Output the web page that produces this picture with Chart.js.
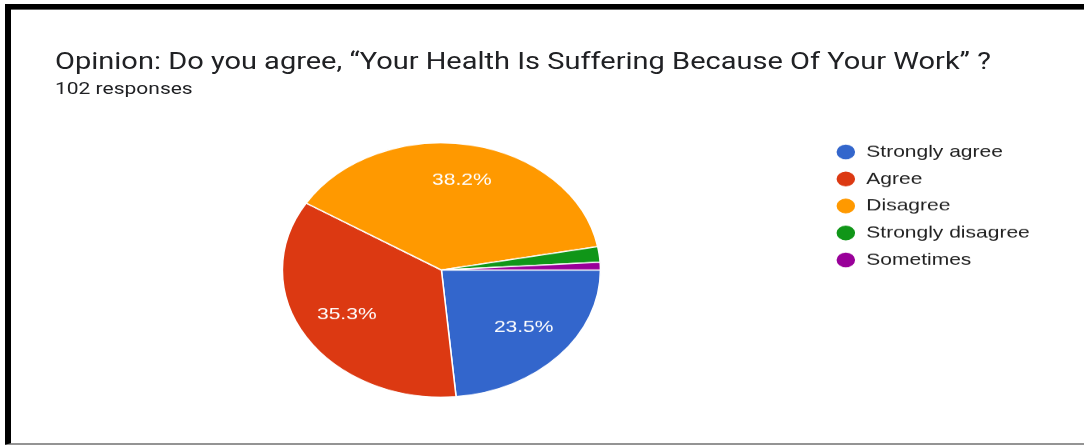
<!DOCTYPE html>
<html>
<head>
<meta charset="utf-8">
<script src="https://cdn.jsdelivr.net/npm/chart.js"></script>
<style>
  html, body { margin: 0; padding: 0; background: #fff; overflow: hidden; }
  /* the reference is squashed vertically, so draw everything taller and scale it down */
  #page { position: absolute; left: 0; top: 0; width: 1084px; height: 556px; transform: scaleY(0.8); transform-origin: 0 0; }
  #frame { position: absolute; left: 5px; top: 5px; right: 0; bottom: 0; border-left: 6px solid #000; border-top: 7.5px solid #000; border-bottom: 2px solid #7a7a7a; }
  #title { position: absolute; left: 55px; top: 59px; font-family: Roboto, sans-serif; font-size: 29px; color: #202124; white-space: nowrap; }
  #sub { position: absolute; left: 55px; top: 98px; font-family: Roboto, sans-serif; font-size: 21px; color: #202124; white-space: nowrap; }
  #box { position: absolute; left: 0; top: 0; width: 1084px; height: 556px; }
</style>
</head>
<body>
<div id="page">
  <div id="frame"></div>
  <div id="title">Opinion: Do you agree, “Your Health Is Suffering Because Of Your Work” ?</div>
  <div id="sub">102 responses</div>
  <div id="box"><canvas id="pie"></canvas></div>
</div>
<script>
const labels = ['Strongly agree', 'Agree', 'Disagree', 'Strongly disagree', 'Sometimes']
const counts = [24, 36, 39, 2, 1]
const colors = ['#3366cc', '#dc3912', '#ff9900', '#109618', '#990099']

// percentages written inside the big slices
const pctLabels = {
  id: 'pctLabels',
  afterDatasetsDraw(chart) {
    const ctx = chart.ctx
    const meta = chart.getDatasetMeta(0)
    const total = counts.reduce((a, b) => a + b, 0)
    ctx.save()
    ctx.font = '21px Arial, "Liberation Sans", sans-serif'
    ctx.fillStyle = '#fff'
    ctx.textAlign = 'center'
    ctx.textBaseline = 'middle'
    meta.data.forEach((arc, i) => {
      const pct = counts[i] / total * 100
      if (pct < 5) return
      const p = arc.getProps(['x', 'y', 'startAngle', 'endAngle', 'outerRadius'])
      const mid = (p.startAngle + p.endAngle) / 2
      const r = p.outerRadius * 0.7
      ctx.fillText(pct.toFixed(1) + '%', p.x + Math.cos(mid) * r, p.y + Math.sin(mid) * r - 3)
    })
    ctx.restore()
  }
}

new Chart('pie', {
  type: 'pie',
  data: {
    labels: labels,
    datasets: [{
      data: counts,
      backgroundColor: colors,
      borderColor: '#fff',
      borderWidth: 1.5
    }]
  },
  options: {
    responsive: true,
    maintainAspectRatio: false,
    animation: false,
    rotation: 90,
    radius: 159,
    layout: { padding: { left: 59.75, right: 44.25, top: 166.75, bottom: 47.75 } },
    plugins: {
      tooltip: { enabled: false },
      legend: {
        position: 'right',
        align: 'start',
        labels: {
          usePointStyle: true,
          pointStyle: 'circle',
          boxHeight: 14,
          pointStyleWidth: 20,
          padding: 12.75,
          color: '#222',
          font: { family: 'Arial, "Liberation Sans", sans-serif', size: 21 }
        }
      }
    }
  },
  plugins: [pctLabels]
})
</script>
</body>
</html>
